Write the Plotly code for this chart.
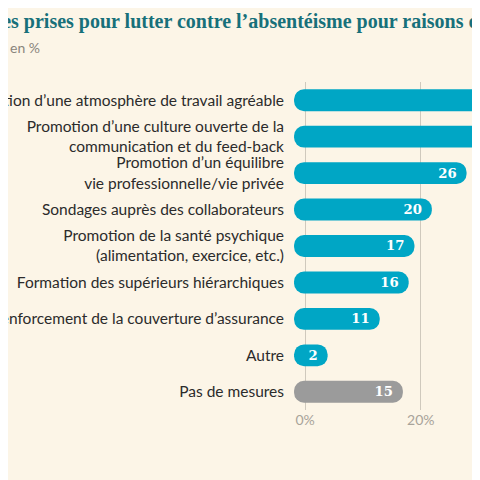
import plotly.graph_objs as go

labels = ["Création d’une atmosphère de travail agréable",
          "Promotion d’une culture ouverte de la<br>communication et du feed-back",
          "Promotion d’un équilibre<br>vie professionnelle/vie privée",
          "Sondages auprès des collaborateurs",
          "Promotion de la santé psychique<br>(alimentation, exercice, etc.)",
          "Formation des supérieurs hiérarchiques",
          "Renforcement de la couverture d’assurance",
          "Autre",
          "Pas de mesures"]
values = [42, 36, 26, 20, 17, 16, 11, 2, 15]
colors = ["#00a6c5"] * 8 + ["#9b9b9b"]

cap = 1.9  # rounded end overhang, in axis units
bg = "#fcf5e7"

fig = go.Figure()
fig.add_trace(go.Bar(
    y=labels, x=[v + 2 * cap for v in values], base=-cap, orientation="h",
    marker=dict(color=colors, cornerradius="50%", line=dict(width=0)),
    width=0.6, text=[str(v) for v in values], textposition="inside",
    insidetextanchor="end", textangle=0,
    textfont=dict(family="DejaVu Serif", size=15, color="white", weight="bold"),
    hoverinfo="skip"))

fig.update_layout(
    width=480, height=480, paper_bgcolor=bg, plot_bgcolor=bg,
    margin=dict(l=282, r=0, t=74, b=78), showlegend=False,
    xaxis=dict(range=[-2.6, 31.6], tickvals=[0, 20, 40], ticktext=["0%", "20%", "40%"],
               showgrid=True, gridcolor="#cfc9bd", gridwidth=1, zeroline=False,
               tickfont=dict(family="Lato", size=14, color="#a8a39a")),
    yaxis=dict(autorange="reversed", automargin=False, ticks="", ticklabelstandoff=5,
               tickfont=dict(family="Lato", size=15.5, color="#2b2b2b")),
    uniformtext=dict(minsize=8, mode="show"),
    annotations=[
        dict(text="<b>Mesures prises pour lutter contre l’absentéisme pour raisons de santé</b>",
             xref="paper", yref="paper", x=-1.742, y=1.183, xanchor="left", yanchor="middle",
             showarrow=False, font=dict(family="Liberation Serif", size=20, color="#17707a")),
        dict(text="en %", xref="paper", yref="paper", x=-1.424, y=1.104,
             xanchor="left", yanchor="middle", showarrow=False,
             font=dict(family="Lato", size=14, color="#8a857d")),
    ])

fig.write_html("out.html")
